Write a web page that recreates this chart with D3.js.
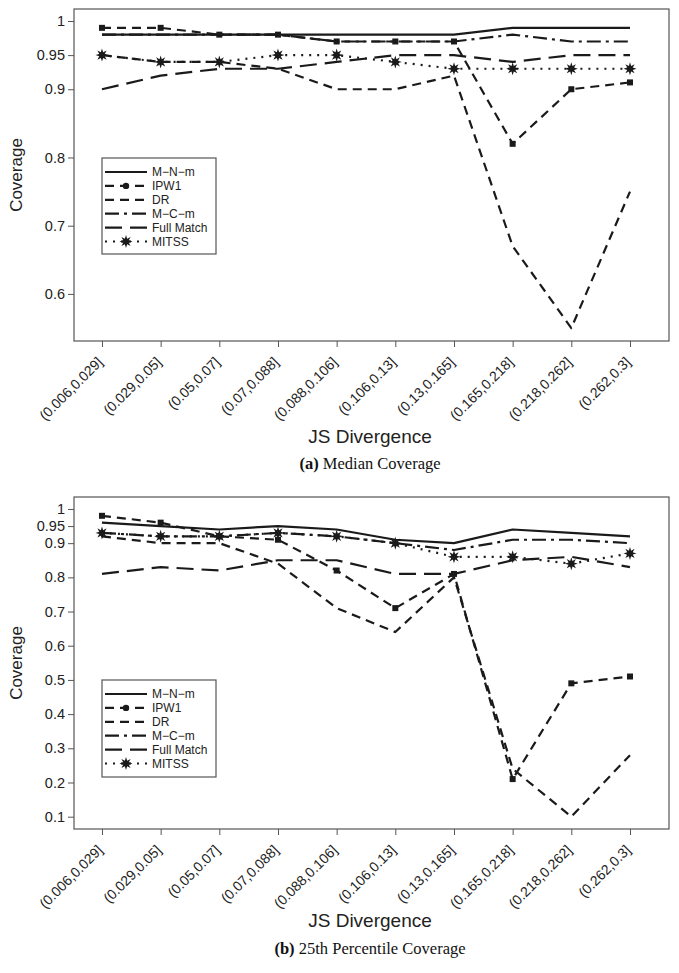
<!DOCTYPE html>
<html>
<head>
<meta charset="utf-8">
<script src="https://cdn.jsdelivr.net/npm/d3@7/dist/d3.min.js"></script>
<style>
  html, body { margin: 0; padding: 0; background: #fff; }
  svg { display: block; }
  .sans { font-family: "Liberation Sans", Arial, sans-serif; }
  .serif { font-family: "Liberation Serif", "Times New Roman", serif; }
</style>
</head>
<body>
<svg id="chart" width="679" height="973"></svg>
<script>
// ---------------- DATA ----------------
const categories = ["(0.006,0.029]", "(0.029,0.05]", "(0.05,0.07]", "(0.07,0.088]", "(0.088,0.106]",
                    "(0.106,0.13]", "(0.13,0.165]", "(0.165,0.218]", "(0.218,0.262]", "(0.262,0.3]"];
const seriesNames = ["M\u2212N\u2212m", "IPW1", "DR", "M\u2212C\u2212m", "Full Match", "MITSS"];

// (a) Median coverage
const medianMNm   = [0.98, 0.98, 0.98, 0.98, 0.98, 0.98, 0.98, 0.99, 0.99, 0.99];
const medianIPW1  = [0.99, 0.99, 0.98, 0.98, 0.97, 0.97, 0.97, 0.82, 0.90, 0.91];
const medianDR    = [0.95, 0.94, 0.94, 0.93, 0.90, 0.90, 0.92, 0.67, 0.55, 0.75];
const medianMCm   = [0.98, 0.98, 0.98, 0.98, 0.97, 0.97, 0.97, 0.98, 0.97, 0.97];
const medianFull  = [0.90, 0.92, 0.93, 0.93, 0.94, 0.95, 0.95, 0.94, 0.95, 0.95];
const medianMITSS = [0.95, 0.94, 0.94, 0.95, 0.95, 0.94, 0.93, 0.93, 0.93, 0.93];

// (b) 25th percentile coverage
const p25MNm   = [0.96, 0.95, 0.94, 0.95, 0.94, 0.91, 0.90, 0.94, 0.93, 0.92];
const p25IPW1  = [0.98, 0.96, 0.92, 0.91, 0.82, 0.71, 0.81, 0.21, 0.49, 0.51];
const p25DR    = [0.92, 0.90, 0.90, 0.84, 0.71, 0.64, 0.80, 0.24, 0.10, 0.28];
const p25MCm   = [0.93, 0.92, 0.92, 0.93, 0.92, 0.90, 0.88, 0.91, 0.91, 0.90];
const p25Full  = [0.81, 0.83, 0.82, 0.85, 0.85, 0.81, 0.81, 0.85, 0.86, 0.83];
const p25MITSS = [0.93, 0.92, 0.92, 0.93, 0.92, 0.90, 0.86, 0.86, 0.84, 0.87];

const yTicksA = [0.6, 0.7, 0.8, 0.9, 0.95, 1];
const yTicksB = [0.1, 0.2, 0.3, 0.4, 0.5, 0.6, 0.7, 0.8, 0.9, 0.95, 1];

// ---------------- STYLES ----------------
const styles = [
  { dash: null,        marker: null },
  { dash: "9,6",       marker: "square" },
  { dash: "9,6",       marker: null },
  { dash: "14,5,3,5",  marker: null },
  { dash: "17,8",      marker: null },
  { dash: "2,6",       marker: "star" }
];
const ink = "#1a1a1a";
const lw = 2.2;

const svg = d3.select("#chart");

function starPath(r1, r2, n) {
  const pts = [];
  for (let i = 0; i < 2 * n; i++) {
    const r = i % 2 === 0 ? r1 : r2;
    const a = Math.PI * i / n - Math.PI / 2;
    pts.push([r * Math.cos(a), r * Math.sin(a)]);
  }
  return "M" + pts.map(p => p[0].toFixed(2) + "," + p[1].toFixed(2)).join("L") + "Z";
}
const STAR = starPath(6.5, 3.0, 8);

function drawMarker(g, kind, cx, cy, legend) {
  if (kind === "square") {
    if (legend) {
      g.append("circle").attr("cx", cx).attr("cy", cy).attr("r", 3.2).attr("fill", ink);
    } else {
      g.append("rect").attr("x", cx - 3).attr("y", cy - 3).attr("width", 6).attr("height", 6).attr("fill", ink);
    }
  } else if (kind === "star") {
    g.append("path").attr("d", STAR).attr("transform", `translate(${cx},${cy})`).attr("fill", ink);
  }
}

function panel(opts) {
  const { top, bottom, left, right, yDomain, yTicks, series, legendBox, xTitleY, capY, capBold, capRest } = opts;
  const g = svg.append("g");
  const x = d3.scaleLinear().domain([0.523, 10.665]).range([left, right]);
  const y = d3.scaleLinear().domain(yDomain).range([bottom, top]);

  // y axis
  const ya = g.append("g").attr("transform", `translate(${left},0)`)
    .call(d3.axisLeft(y).tickValues(yTicks).tickFormat(d => String(d)).tickSize(6).tickPadding(3).tickSizeOuter(0));
  ya.select(".domain").remove();
  ya.selectAll("line").attr("stroke", "#555");
  ya.selectAll("text").attr("class", "sans").style("font-size", "14.5px").attr("fill", "#222");

  // x axis
  const xa = g.append("g").attr("transform", `translate(0,${bottom})`)
    .call(d3.axisBottom(x).tickValues(d3.range(1, 11)).tickFormat(i => categories[i - 1]).tickSize(6).tickSizeOuter(0));
  xa.select(".domain").remove();
  xa.selectAll("line").attr("stroke", "#555");
  xa.selectAll("text").attr("class", "sans").style("font-size", "14px").attr("fill", "#222")
    .attr("text-anchor", "end").attr("x", 0).attr("y", 0).attr("dy", "0")
    .attr("transform", "translate(1,22) rotate(-45)");

  // frame
  g.append("rect").attr("x", left).attr("y", top).attr("width", right - left).attr("height", bottom - top)
    .attr("fill", "none").attr("stroke", "#555").attr("stroke-width", 1.2);

  // lines
  const line = d3.line().x((d, i) => x(i + 1)).y(d => y(d));
  series.forEach((vals, si) => {
    const st = styles[si];
    g.append("path").datum(vals).attr("d", line).attr("fill", "none")
      .attr("stroke", ink).attr("stroke-width", lw)
      .attr("stroke-dasharray", st.dash).attr("stroke-linejoin", "round");
    if (st.marker) {
      vals.forEach((v, i) => drawMarker(g, st.marker, x(i + 1), y(v), false));
    }
  });

  // legend
  const lg = g.append("g");
  lg.append("rect").attr("x", legendBox.x).attr("y", legendBox.y).attr("width", legendBox.w).attr("height", legendBox.h)
    .attr("fill", "#fff").attr("stroke", "#555").attr("stroke-width", 1.2);
  seriesNames.forEach((name, si) => {
    const ry = legendBox.y + 14 + si * 13.9;
    const st = styles[si];
    lg.append("line").attr("x1", legendBox.x + 3).attr("x2", legendBox.x + 45).attr("y1", ry).attr("y2", ry)
      .attr("stroke", ink).attr("stroke-width", lw).attr("stroke-dasharray", st.dash);
    if (st.marker) drawMarker(lg, st.marker, legendBox.x + 24, ry, true);
    lg.append("text").attr("class", "sans").attr("x", legendBox.x + 50).attr("y", ry).attr("dy", "0.36em")
      .style("font-size", "12px").attr("textLength", null).attr("fill", "#222").text(name);
  });

  // axis titles
  g.append("text").attr("class", "sans").attr("text-anchor", "middle")
    .attr("transform", `translate(22,${(top + bottom) / 2}) rotate(-90)`)
    .style("font-size", "17px").attr("fill", "#222").text("Coverage");
  g.append("text").attr("class", "sans").attr("text-anchor", "middle")
    .attr("x", 370).attr("y", xTitleY).style("font-size", "19px").attr("fill", "#222").text("JS Divergence");

  // caption
  const cap = g.append("text").attr("class", "serif").attr("text-anchor", "middle")
    .attr("x", 370).attr("y", capY).style("font-size", "16.5px").attr("fill", "#111");
  cap.append("tspan").style("font-weight", "bold").text(capBold);
  cap.append("tspan").text(" " + capRest);
}

panel({
  top: 9, bottom: 341, left: 74, right: 669,
  yDomain: [0.531, 1.0176], yTicks: yTicksA,
  series: [medianMNm, medianIPW1, medianDR, medianMCm, medianFull, medianMITSS],
  legendBox: { x: 102, y: 158, w: 114, h: 96 },
  xTitleY: 443, capY: 469, capBold: "(a)", capRest: "Median Coverage"
});

panel({
  top: 497, bottom: 829, left: 74, right: 669,
  yDomain: [0.064, 1.035], yTicks: yTicksB,
  series: [p25MNm, p25IPW1, p25DR, p25MCm, p25Full, p25MITSS],
  legendBox: { x: 102, y: 680, w: 114, h: 97 },
  xTitleY: 927, capY: 954, capBold: "(b)", capRest: "25th Percentile Coverage"
});
</script>
</body>
</html>
